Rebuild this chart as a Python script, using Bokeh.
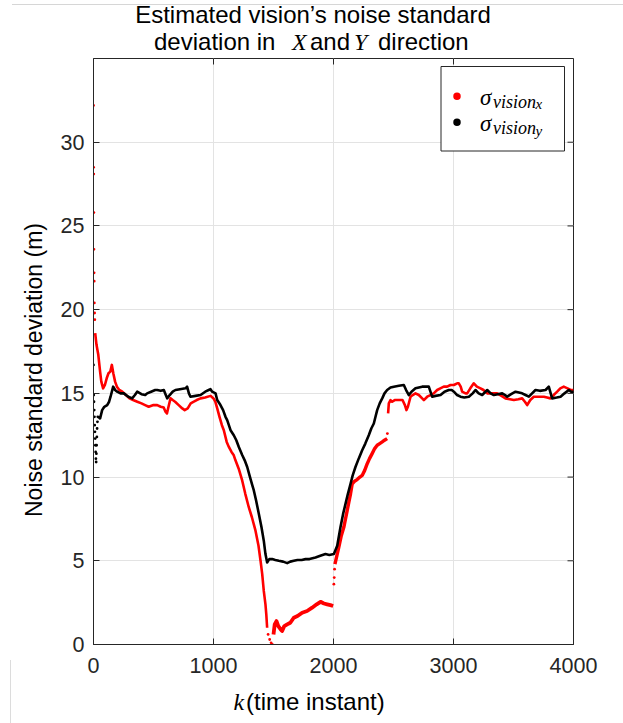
from bokeh.plotting import figure
from bokeh.layouts import column, row
from bokeh.models import Range1d, FixedTicker, Label, Div
from bokeh.embed import file_html
from bokeh.resources import INLINE

# ---- estimated sigma of the vision noise, X direction (red) ----
red_start_k = [0, 1, 2, 3, 4, 5, 6, 7, 9, 11]
red_start_y = [32.2, 28.5, 28.1, 25.8, 23.6, 22.2, 21.7, 20.4, 19.8, 19.4]

red_a_k = [14, 25, 40, 55, 65, 80, 95, 110, 125, 140, 153, 165, 180, 195, 215,
           240, 270, 300, 330, 365, 400, 430, 460, 500, 531, 560, 585, 600, 612,
           625, 642, 660, 680, 710, 740, 760, 785, 810, 836, 860, 892, 930, 975,
           1000, 1015, 1031, 1050, 1070, 1086, 1110, 1128, 1150, 1169, 1183, 1210,
           1239, 1265, 1294, 1320, 1350, 1375, 1392, 1406, 1419, 1433, 1440, 1447]
red_a_y = [18.6, 17.9, 17.3, 16.3, 15.7, 15.3, 15.5, 15.9, 16.2, 16.3, 16.7, 16.2,
           15.7, 15.4, 15.2, 15.1, 14.9, 14.7, 14.6, 14.5, 14.4, 14.3, 14.2, 14.3,
           14.3, 14.2, 14.15, 13.9, 13.8, 14.2, 14.7, 14.6, 14.5, 14.3, 14.1, 14.0,
           14.1, 14.4, 14.5, 14.6, 14.7, 14.75, 14.85, 14.7, 14.5, 14.1, 13.6, 13.1,
           12.8, 12.1, 11.8, 11.5, 11.3, 11.0, 10.5, 9.8, 9.0, 8.2, 7.6, 6.8, 5.9,
           5.0, 4.2, 3.2, 2.4, 1.8, 1.0]

red_gap_k = [1455, 1468, 1480, 1490, 2003, 2006, 2009, 2449]
red_gap_y = [0.6, 0.3, 0.1, 0.0, 3.6, 4.0, 4.5, 12.6]

red_b_k = [1500, 1510, 1525, 1540, 1560, 1572, 1590, 1614, 1640, 1669, 1700,
           1739, 1780, 1822, 1860, 1892, 1920, 1947, 1975, 1997]
red_b_y = [0.6, 1.2, 1.4, 1.1, 0.9, 0.8, 1.1, 1.2, 1.3, 1.6, 1.7, 1.9, 2.0, 2.2,
           2.4, 2.55, 2.45, 2.4, 2.35, 2.3]

red_c_k = [2012, 2031, 2044, 2065, 2086, 2100, 2114, 2128, 2142, 2156, 2175, 2197,
           2220, 2239, 2260, 2281, 2300, 2322, 2343, 2364, 2385, 2406, 2425, 2447]
red_c_y = [4.8, 5.4, 5.8, 6.5, 7.0, 7.5, 8.0, 8.5, 9.0, 9.6, 9.75, 9.85, 10.0,
           10.1, 10.4, 10.8, 11.1, 11.4, 11.7, 11.9, 12.0, 12.1, 12.2, 12.3]

red_d_k = [2455, 2461, 2475, 2489, 2510, 2531, 2558, 2575, 2595, 2608, 2620, 2642,
           2660, 2683, 2711, 2739, 2753, 2781, 2808, 2835, 2864, 2890, 2919, 2947,
           2975, 3003, 3031, 3044, 3060, 3072, 3100, 3114, 3140, 3169, 3195, 3225,
           3250, 3281, 3320, 3364, 3400, 3433, 3470, 3503, 3540, 3572, 3595, 3614,
           3640, 3669, 3710, 3753, 3780, 3808, 3835, 3864, 3890, 3919, 3950, 3975,
           4000]
red_d_y = [13.8, 14.4, 14.6, 14.5, 14.6, 14.6, 14.6, 14.6, 14.3, 14.0, 14.2, 14.8,
           14.9, 15.0, 14.9, 14.7, 14.6, 14.8, 14.9, 15.0, 15.2, 15.3, 15.4, 15.4,
           15.5, 15.5, 15.6, 15.6, 15.4, 15.1, 15.0, 15.0, 15.3, 15.6, 15.4, 15.3,
           15.2, 15.0, 15.0, 15.0, 14.85, 14.7, 14.65, 14.6, 14.65, 14.7, 14.5, 14.3,
           14.6, 14.8, 14.8, 14.8, 14.75, 14.7, 14.9, 15.1, 15.3, 15.4, 15.3, 15.2,
           15.2]

# ---- estimated sigma of the vision noise, Y direction (black) ----
black_start_k = [0, 2, 4, 6, 8, 10, 12, 14, 16, 18, 20, 22, 24, 26, 28, 30, 33, 36]
black_start_y = [16.7, 14.9, 14.5, 14.0, 13.6, 13.1, 12.7, 12.3, 11.9, 11.5, 11.1,
                 10.9, 11.4, 11.9, 12.4, 12.9, 13.3, 13.6]

black_k = [40, 55, 72, 90, 114, 130, 142, 164, 180, 197, 225, 253, 290, 322, 345,
           364, 400, 431, 447, 480, 514, 531, 560, 586, 600, 614, 635, 660, 683,
           720, 767, 780, 795, 808, 850, 892, 931, 960, 975, 989, 1017, 1031, 1058,
           1080, 1100, 1114, 1142, 1169, 1190, 1211, 1240, 1260, 1281, 1300, 1320,
           1336, 1355, 1378, 1400, 1419, 1433, 1447, 1465, 1489, 1515, 1544, 1580,
           1614, 1640, 1669, 1700, 1735, 1767, 1800, 1850, 1890, 1933, 1965, 2003,
           2031, 2058, 2080, 2100, 2120, 2142, 2160, 2183, 2210, 2239, 2265, 2294,
           2315, 2336, 2350, 2364, 2385, 2406, 2425, 2447, 2475, 2503, 2545, 2586,
           2605, 2628, 2650, 2683, 2711, 2739, 2770, 2794, 2808, 2822, 2850, 2892,
           2925, 2961, 2985, 3003, 3030, 3058, 3090, 3128, 3160, 3183, 3210, 3239,
           3260, 3281, 3310, 3336, 3370, 3406, 3430, 3447, 3480, 3517, 3545, 3572,
           3600, 3628, 3655, 3683, 3720, 3767, 3794, 3810, 3822, 3860, 3892, 3925,
           3961, 3980, 4000]
black_y = [13.6, 13.5, 14.0, 14.2, 14.3, 14.5, 14.8, 15.4, 15.2, 15.1, 15.0, 15.0,
           14.8, 14.7, 14.9, 15.1, 14.95, 14.9, 15.0, 15.1, 15.2, 15.2, 15.15, 15.2,
           14.95, 14.7, 14.9, 15.1, 15.2, 15.25, 15.3, 15.4, 15.0, 14.8, 14.85, 14.9,
           15.1, 15.2, 15.25, 15.1, 15.0, 14.6, 14.3, 14.0, 13.6, 13.4, 12.8, 12.5,
           12.2, 11.8, 11.3, 11.0, 10.6, 10.1, 9.6, 9.2, 8.6, 7.8, 7.0, 6.2, 5.4,
           4.9, 5.1, 5.1, 5.05, 5.0, 4.95, 4.86, 4.95, 5.0, 5.05, 5.05, 5.1, 5.1,
           5.2, 5.3, 5.4, 5.35, 5.4, 5.9, 7.0, 7.8, 8.4, 9.0, 9.6, 10.1, 10.6, 11.1,
           11.6, 12.0, 12.5, 12.9, 13.2, 13.6, 14.0, 14.4, 14.7, 15.0, 15.2, 15.35,
           15.4, 15.45, 15.5, 15.2, 14.9, 15.1, 15.3, 15.35, 15.4, 15.4, 15.4, 15.1,
           14.8, 14.85, 14.9, 15.1, 15.2, 15.2, 15.1, 14.9, 14.8, 14.75, 14.8, 15.0,
           15.2, 15.0, 14.9, 15.05, 15.2, 15.0, 14.9, 14.95, 15.0, 14.9, 14.8, 14.95,
           15.1, 15.05, 15.0, 14.9, 14.8, 15.0, 15.2, 15.15, 15.2, 15.4, 15.0, 14.7,
           14.75, 14.8, 15.0, 15.2, 15.1, 15.1]

x_ticks = [0, 1000, 2000, 3000, 4000]
y_ticks = [0, 5, 10, 15, 20, 25, 30]

# ---- page geometry (pixels on the page) ----
W, H = 623, 723
TITLE_H = 50          # title strip above the plot
YLAB_W = 50           # strip that carries the rotated y label
FIG_H = 640
XLAB_H = H - TITLE_H - FIG_H
LEFT, RIGHT, TOP, BOTTOM = 93, 573, 58, 644   # frame edges on the page
X_MAX, Y_MAX = 4000, 35
AX = "#262626"
SANS = "Liberation Sans"
SERIF = "Liberation Serif"
RED = "#ff0000"

p = figure(width=W - YLAB_W, height=FIG_H, output_backend="svg",
           toolbar_location=None,
           x_range=Range1d(0, X_MAX), y_range=Range1d(0, Y_MAX),
           min_border_left=LEFT - YLAB_W, min_border_right=W - RIGHT,
           min_border_top=TOP - TITLE_H,
           min_border_bottom=TITLE_H + FIG_H - BOTTOM,
           background_fill_color="white", border_fill_color="white",
           margin=0)
p.outline_line_color = AX
p.outline_line_width = 1

for ax, ticks, standoff in [(p.xaxis[0], x_ticks, 13), (p.yaxis[0], y_ticks, 9)]:
    ax.ticker = FixedTicker(ticks=ticks)
    ax.axis_line_color = AX
    ax.major_tick_line_color = AX
    ax.major_tick_in = 6
    ax.major_tick_out = 0
    ax.minor_tick_line_color = None
    ax.major_label_text_font = SANS
    ax.major_label_text_font_size = "21.5px"
    ax.major_label_text_color = AX
    ax.major_label_standoff = standoff

p.xgrid.ticker = FixedTicker(ticks=x_ticks)
p.ygrid.ticker = FixedTicker(ticks=y_ticks)
p.xgrid.grid_line_color = "#e3e3e3"
p.ygrid.grid_line_color = "#e3e3e3"

# inward tick marks on the top and right edges of the box
tick_dx = 6 / (RIGHT - LEFT) * X_MAX
tick_dy = 6 / (BOTTOM - TOP) * Y_MAX
p.segment(x0=x_ticks, x1=x_ticks, y0=[Y_MAX] * len(x_ticks),
          y1=[Y_MAX - tick_dy] * len(x_ticks), line_color=AX, line_width=1)
p.segment(x0=[X_MAX] * len(y_ticks), x1=[X_MAX - tick_dx] * len(y_ticks),
          y0=y_ticks, y1=y_ticks, line_color=AX, line_width=1)

# ---- data ----
LW = 2.6
for ks, ys, lw in [(red_a_k, red_a_y, LW), (red_b_k, red_b_y, 3.8),
                   (red_c_k, red_c_y, 3.4), (red_d_k, red_d_y, LW)]:
    p.line(ks, ys, line_color=RED, line_width=lw, line_join="round")
p.scatter(red_start_k + red_gap_k, red_start_y + red_gap_y, size=2.8,
          color=RED, line_color=None)

p.line(black_k, black_y, line_color="black", line_width=LW, line_join="round")
p.scatter(black_start_k, black_start_y, size=2.8, color="black", line_color=None)


def kx(cx):
    return (cx - LEFT) / (RIGHT - LEFT) * X_MAX


def vy(cy):
    return (BOTTOM - cy) / (BOTTOM - TOP) * Y_MAX


# ---- legend ----
p.quad(left=[kx(440.5)], right=[kx(564)], top=[vy(66)], bottom=[vy(150.5)],
       fill_color="white", line_color=AX, line_width=1)
p.scatter([kx(456.5), kx(456.5)], [vy(95.7), vy(121.7)], size=7.5,
          color=[RED, "black"], line_color=None)


def frame_text(txt, cx, cy, size):
    p.add_layout(Label(x=cx - LEFT, y=BOTTOM - cy, x_units="screen",
                       y_units="screen", text=txt, text_font=SERIF,
                       text_font_size=size, text_font_style="italic",
                       text_baseline="alphabetic", text_color="black"))


for cy, sub in [(96.7, "x"), (123.0, "y")]:
    frame_text("σ", 479.5, cy, "23px")
    frame_text("vision", 492.5, cy + 4.5, "18px")
    frame_text(sub, 535, cy + 7, "15px")


# ---- title, y label and x label as html strips around the plot ----
LINE_H = 20   # css line box; baseline sits at LINE_H / 2 + 0.348 * size


def span(txt, left, baseline, size, font=SANS, italic=False, extra=""):
    top = baseline - (LINE_H / 2 + 0.348 * size)
    style = (f"position:absolute;left:{left}px;top:{top:.1f}px;"
             f"font-family:'{font}';font-size:{size}px;line-height:{LINE_H}px;"
             f"white-space:nowrap;color:#000;"
             f"font-style:{'italic' if italic else 'normal'};{extra}")
    return f'<span style="{style}">{txt}</span>'


def box(inner, w, h):
    return (f'<div style="position:relative;width:{w}px;height:{h}px;'
            f'overflow:visible;">{inner}</div>')


TITLE_B1, TITLE_B2 = 23.3, 50.3   # baselines of the two title lines
title_html = box(
    '<div style="position:absolute;left:12px;top:4px;width:611px;height:1px;'
    'background:#d6d6d6;"></div>'
    + span("Estimated vision’s noise standard", 313, TITLE_B1, 24,
           extra="transform:translateX(-50%);")
    + span("deviation in", 154, TITLE_B2, 24)
    + span("X", 292, TITLE_B2, 24, SERIF, True)
    + span("and", 310, TITLE_B2, 24)
    + span("Y", 354, TITLE_B2, 24, SERIF, True)
    + span("direction", 378, TITLE_B2, 24),
    W, TITLE_H)

ylab_html = box(
    '<div style="position:absolute;left:10px;top:610px;width:1px;'
    'height:30px;background:#dcdcdc;"></div>'
    + span("Noise standard deviation (m)", 34, 0, 23,
           extra=f"top:{370 - TITLE_H}px;"
                 "transform:translate(-50%,-50%) rotate(-90deg);"),
    YLAB_W, FIG_H)

xlab_y0 = TITLE_H + FIG_H
xlab_html = box(
    '<div style="position:absolute;left:10px;top:0px;width:1px;'
    f'height:{XLAB_H}px;background:#dcdcdc;"></div>'
    + span("k", 233.5, 710.5 - xlab_y0, 24, SERIF, True)
    + span("(time instant)", 246, 710.5 - xlab_y0, 24),
    W, XLAB_H)

title_div = Div(text=title_html, width=W, height=TITLE_H, margin=0)
ylab_div = Div(text=ylab_html, width=YLAB_W, height=FIG_H, margin=0)
xlab_div = Div(text=xlab_html, width=W, height=XLAB_H, margin=0)

page = column(title_div, row(ylab_div, p, spacing=0, margin=0), xlab_div,
              spacing=0, margin=0)

open("out.html", "w").write(file_html(page, INLINE))
